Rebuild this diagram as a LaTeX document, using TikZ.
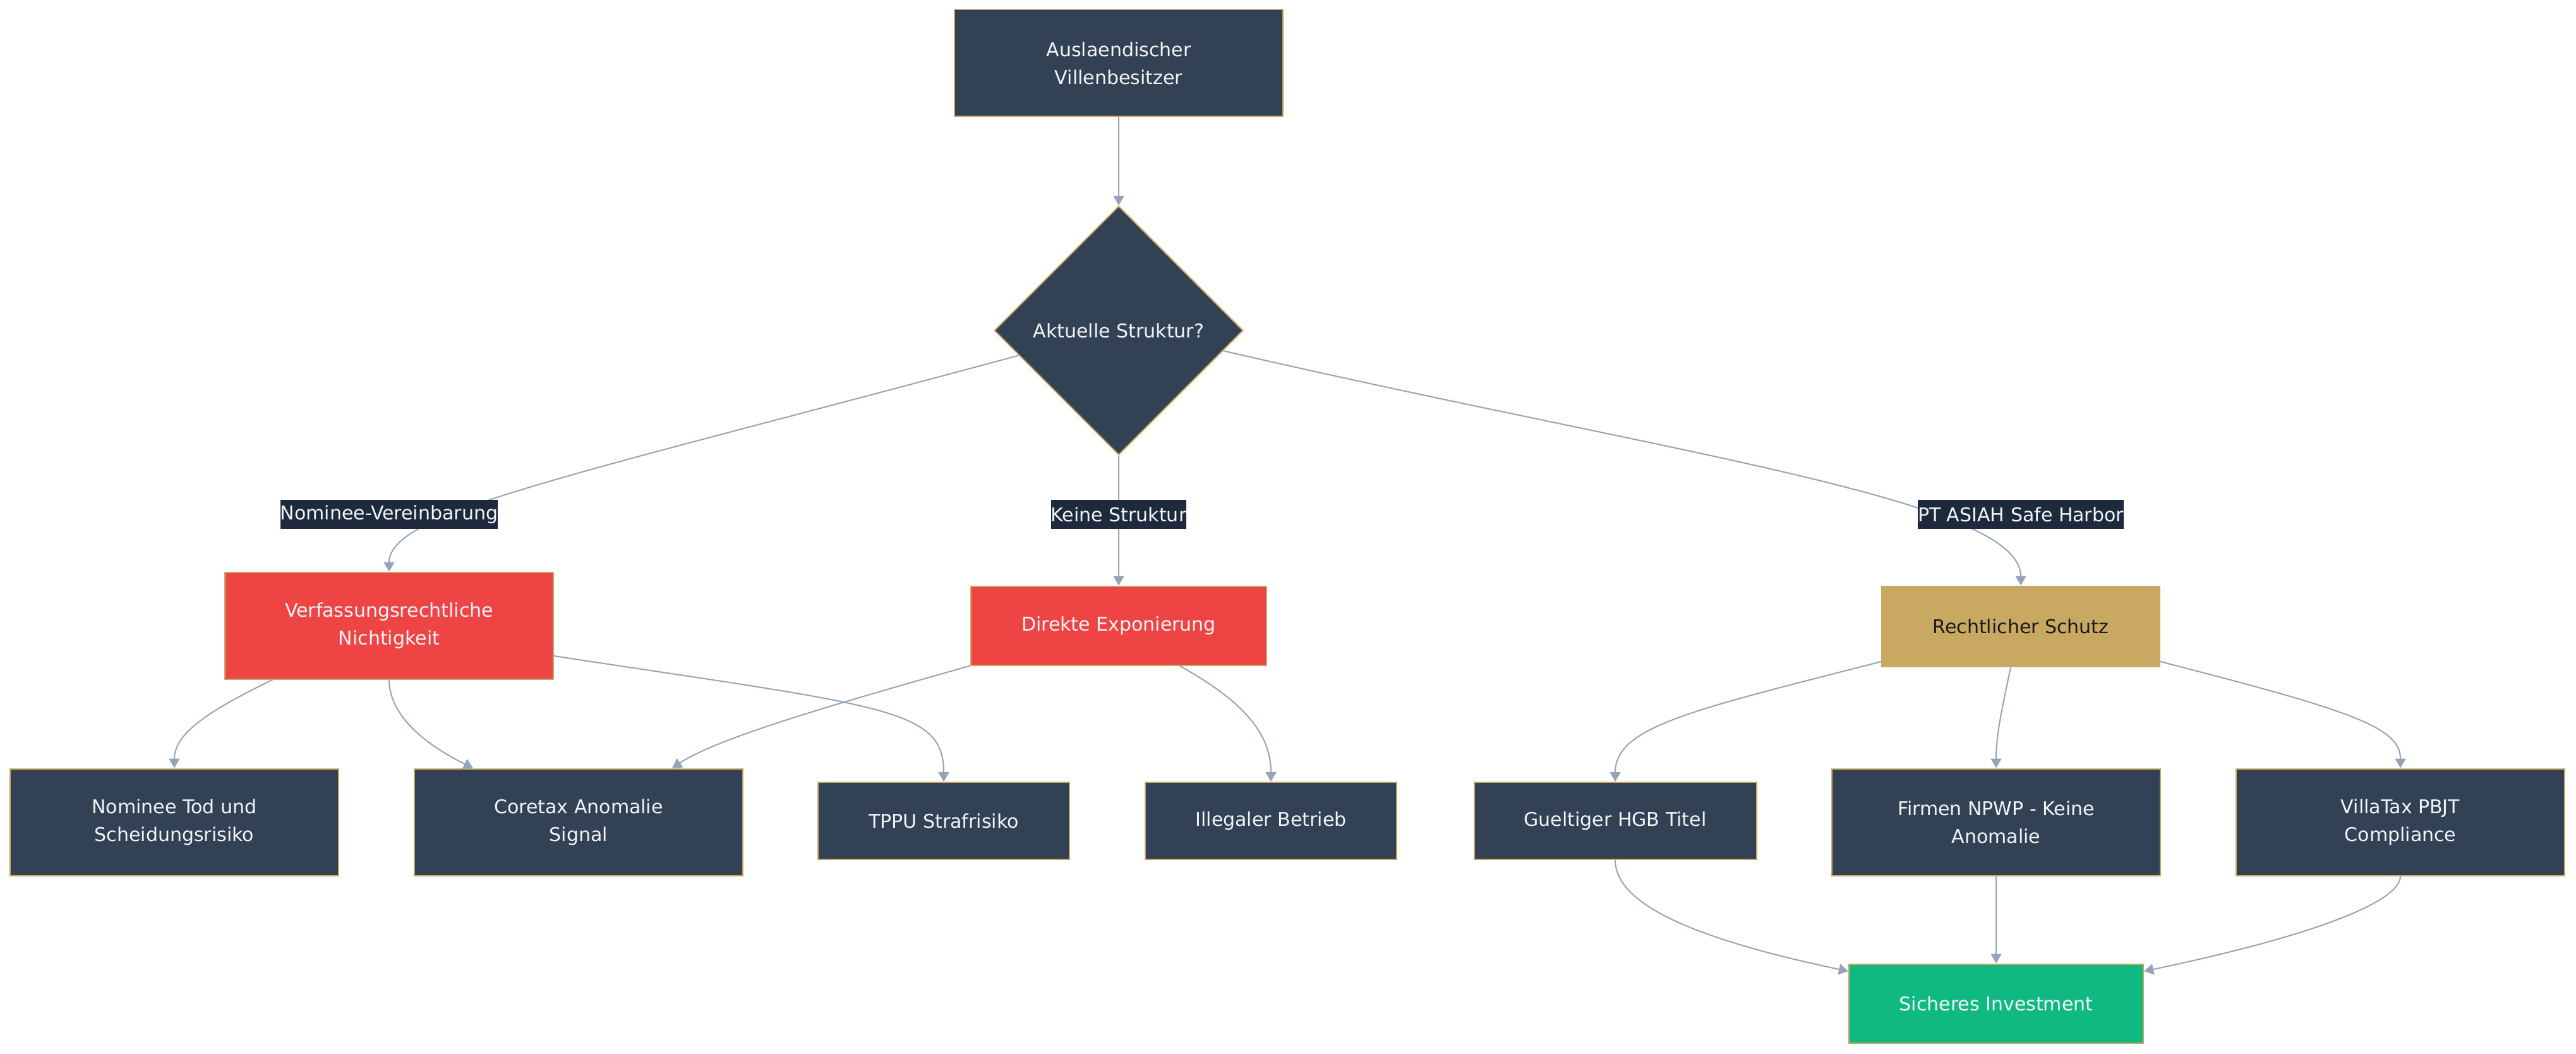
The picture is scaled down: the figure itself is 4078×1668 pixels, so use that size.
\documentclass[tikz,border=0pt]{standalone}
\usepackage{fontspec}
\setmainfont{DejaVu Sans}
\usepackage{tikz}
\usetikzlibrary{
  shapes.geometric, arrows.meta, positioning, calc
}
\definecolor{slatebg}{HTML}{334155}
\definecolor{goldline}{HTML}{C9A862}
\definecolor{riskred}{HTML}{EF4444}
\definecolor{safegreen}{HTML}{10B981}
\definecolor{edgegray}{HTML}{94A3B8}
\definecolor{labelbg}{HTML}{1E293B}
\definecolor{paletext}{HTML}{F1F5F9}
\definecolor{inktext}{HTML}{1A1A1A}
\tikzstyle{flowbox} = [
  rectangle, draw=goldline, line width=1pt, fill=slatebg, text=paletext,
  align=center, inner sep=0pt, minimum width=260pt, minimum height=84.5pt,
  font=\fontsize{15pt}{22pt}\selectfont
]
\tikzstyle{riskbox} = [flowbox, fill=riskred]
\tikzstyle{shieldbox} = [flowbox, draw=goldline, fill=goldline, text=inktext]
\tikzstyle{safebox} = [flowbox, fill=safegreen]
\tikzstyle{decision} = [
  diamond, draw=goldline, line width=1pt, fill=slatebg, text=paletext,
  inner sep=0pt, minimum width=197pt, minimum height=197pt,
  font=\fontsize{15pt}{22pt}\selectfont
]
\tikzstyle{edgelabel} = [
  fill=labelbg, text=paletext, inner xsep=0pt, inner ysep=0pt,
  minimum height=23pt, font=\fontsize{15pt}{22pt}\selectfont
]
\tikzstyle{arrow} = [-{Triangle[length=7.5pt, width=8.5pt]}, draw=edgegray, line width=1pt]

\begin{document}
\begin{tikzpicture}[x=0.5pt, y=-0.5pt]

  \useasboundingbox (0, 0) rectangle (4078, 1668);

  \node[flowbox] (owner) at (1771, 100) {Auslaendischer\\Villenbesitzer};
  \node[decision] (dec) at (1771, 523) {Aktuelle Struktur?};

  \node[riskbox] (verf) at (616, 990) {Verfassungsrechtliche\\Nichtigkeit};
  \node[riskbox, minimum width=234pt, minimum height=62.5pt] (direkt) at (1771, 990) {Direkte Exponierung};
  \node[shieldbox, minimum width=220pt, minimum height=63.5pt] (schutz) at (3199, 991) {Rechtlicher Schutz};

  \node[flowbox] (tod) at (276, 1301) {Nominee Tod und\\Scheidungsrisiko};
  \node[flowbox] (coretax) at (916, 1301) {Coretax Anomalie\\Signal};
  \node[flowbox, minimum width=199pt, minimum height=61pt] (tppu) at (1494, 1299) {TPPU Strafrisiko};
  \node[flowbox, minimum width=199pt, minimum height=61pt] (illegal) at (2012, 1299) {Illegaler Betrieb};
  \node[flowbox, minimum width=223.5pt, minimum height=61pt] (hgb) at (2557, 1299) {Gueltiger HGB Titel};
  \node[flowbox] (npwp) at (3160, 1301) {Firmen NPWP - Keine\\Anomalie};
  \node[flowbox] (villatax) at (3800, 1301) {VillaTax PBJT\\Compliance};

  \node[safebox, minimum width=233pt, minimum height=62.5pt] (invest) at (3160, 1588) {Sicheres Investment};

  \draw[arrow] (owner.south) -- (dec.north);
  \draw[arrow] (dec.194) .. controls (900, 755) and (616, 810) .. (verf.north);
  \draw[arrow] (dec.south) -- (direkt.north);
  \draw[arrow] (dec.349) .. controls (2650, 720) and (3199, 790) .. (schutz.north);

  \draw[arrow] ([xshift=-92pt]verf.south) .. controls (332, 1124) and (276, 1160) .. (tod.north);
  \draw[arrow] (verf.south) .. controls (616, 1140) and (689, 1186) .. ([xshift=-83.5pt]coretax.north);
  \draw[arrow] ([yshift=-24pt]verf.east) .. controls (1400, 1118) and (1494, 1120) .. (tppu.north);

  \draw[arrow] (direkt.south west) .. controls (1337, 1110) and (1139, 1166) .. ([xshift=74pt]coretax.north);
  \draw[arrow] ([xshift=48pt]direkt.south) .. controls (1967, 1109) and (2012, 1160) .. (illegal.north);

  \draw[arrow] ([yshift=-28pt]schutz.west) .. controls (2678, 1124) and (2557, 1150) .. (hgb.north);
  \draw[arrow] ([xshift=-8pt]schutz.south) .. controls (3170, 1120) and (3160, 1160) .. (npwp.north);
  \draw[arrow] ([yshift=-28pt]schutz.east) .. controls (3719, 1124) and (3800, 1150) .. (villatax.north);

  \draw[arrow] (hgb.south) .. controls (2557, 1430) and (2678, 1485) .. ([yshift=25.5pt]invest.west);
  \draw[arrow] (npwp.south) -- (invest.north);
  \draw[arrow] (villatax.south) .. controls (3800, 1430) and (3644, 1485) .. ([yshift=25.5pt]invest.east);

  \node[edgelabel] (lblnominee) at (616, 814) {Nominee-Vereinbarung};
  \node[edgelabel] (lblkeine) at (1771, 814) {Keine Struktur};
  \node[edgelabel] (lblasiah) at (3199, 814) {PT ASIAH Safe Harbor};

\end{tikzpicture}
\end{document}
